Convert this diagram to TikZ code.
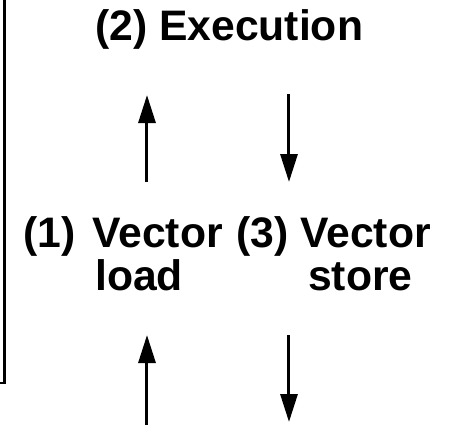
\documentclass[tikz,border=0pt]{standalone}
\usepackage{fontspec}
\setmainfont{Liberation Sans}
\usetikzlibrary{arrows.meta}
\begin{document}
\begin{tikzpicture}[x=0.75pt,y=-0.75pt,
  lbl/.style={inner sep=0pt,anchor=base west,font=\fontsize{32}{38}\selectfont\bfseries},
  flow/.style={line width=2.25pt,-{Triangle[width=12.75pt,length=21pt]}},
  frame/.style={line width=2.1pt}]
\useasboundingbox (0,0) rectangle (462,425);
% labels
\node[lbl] (exec) at (95,40) {(2) Execution};
\node[lbl] (n1) at (23,247) {(1)};
\node[lbl] (v1) at (92,247) {Vector};
\node[lbl] (ld) at (95,290) {load};
\node[lbl] (n3) at (236,247) {(3)};
\node[lbl] (v3) at (300,247) {Vector};
\node[lbl] (st) at (308,290) {store};
% arrow end points
\coordinate (a1s) at (147,182);
\coordinate (a1e) at (147,95);
\coordinate (a2s) at (289,94);
\coordinate (a2e) at (289,182);
\coordinate (a3s) at (147,426);
\coordinate (a3e) at (147,335);
\coordinate (a4s) at (289,335);
\coordinate (a4e) at (289,422);
\draw[flow] (a1s) -- (a1e);
\draw[flow] (a2s) -- (a2e);
\draw[flow] (a3s) -- (a3e);
\draw[flow] (a4s) -- (a4e);
% left frame
\coordinate (f1) at (4.5,-2);
\coordinate (f2) at (4.5,383);
\coordinate (f3) at (-2,383);
\draw[frame] (f1) -- (f2) -- (f3);
\end{tikzpicture}
\end{document}
